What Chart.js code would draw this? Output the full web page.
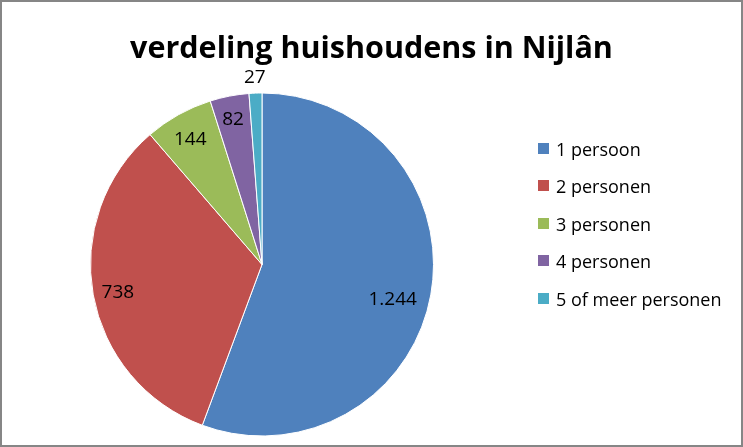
<!DOCTYPE html>
<html>
<head>
<meta charset="utf-8">
<script src="https://cdn.jsdelivr.net/npm/chart.js@4"></script>
<style>
  html, body { margin: 0; padding: 0; background: #fff; }
  body { position: relative; width: 743px; height: 447px; overflow: hidden; }
  #frame {
    position: absolute; left: 0; top: 0; width: 743px; height: 447px;
    box-sizing: border-box; border: 2px solid #868686; pointer-events: none;
  }
  #chart { position: absolute; left: 0; top: 0; }
  #title {
    position: absolute; left: 0; width: 743px; top: 25px; line-height: 30px;
    text-align: center; font: bold 30.5px "Open Sans", sans-serif; color: #000; white-space: nowrap;
  }
  .lg { position: absolute; left: 538px; font: 18px "Open Sans", sans-serif; line-height: 18px; color: #000; white-space: nowrap; }
  .lg .sw { position: absolute; left: 0; top: 3px; width: 11px; height: 11px; }
  .lg .tx { position: absolute; left: 18px; top: 0; }
</style>
</head>
<body>
<canvas id="chart" width="743" height="447"></canvas>
<div id="title">verdeling huishoudens in Nijlân</div>
<div id="legend"></div>
<div id="frame"></div>
<script>
// ── Data ───────────────────────────────────────────────
const categories = ['1 persoon', '2 personen', '3 personen', '4 personen', '5 of meer personen'];
const households = [1244, 738, 144, 82, 27];
const sliceColors = ['#4F81BD', '#C0504D', '#9BBB59', '#8064A2', '#4BACC6'];

// label placement (fraction of radius, angle shift in degrees) — Excel "best fit"
const labelRadius = [0.786, 0.855, 0.846, 0.871, 1.097];
const labelShift  = [4, -0.4, -0.5, -0.2, 0];

// Dutch thousands separator
function fmt(v) {
  return v.toLocaleString('nl-NL');
}

// ── Data labels ───────────────────────────────────────
const labelPlugin = {
  id: 'sliceLabels',
  afterDatasetsDraw(chart) {
    const ctx = chart.ctx;
    const arcs = chart.getDatasetMeta(0).data;
    ctx.save();
    ctx.font = '19px "Open Sans", sans-serif';
    ctx.fillStyle = '#000';
    ctx.textAlign = 'center';
    ctx.textBaseline = 'alphabetic';
    arcs.forEach((arc, i) => {
      const p = arc.getProps(['x', 'y', 'startAngle', 'endAngle', 'outerRadius'], true);
      const mid = (p.startAngle + p.endAngle) / 2 + labelShift[i] * Math.PI / 180;
      const r = p.outerRadius * labelRadius[i];
      // centre the digits' cap height on the point
      ctx.fillText(fmt(households[i]), p.x + Math.cos(mid) * r, p.y + Math.sin(mid) * r + 7);
    });
    ctx.restore();
  }
};

new Chart(document.getElementById('chart'), {
  type: 'pie',
  data: {
    labels: categories,
    datasets: [{
      data: households,
      backgroundColor: sliceColors,
      borderColor: '#ffffff',
      borderWidth: 1,
    }]
  },
  options: {
    responsive: false,
    animation: false,
    layout: { padding: { left: 90, right: 309, top: 92, bottom: 10 } },
    plugins: {
      legend: { display: false },
      tooltip: { enabled: false },
    },
  },
  plugins: [labelPlugin],
});

// ── HTML legend ───────────────────────────────────────
const legendEl = document.getElementById('legend');
categories.forEach((c, i) => {
  const row = document.createElement('div');
  row.className = 'lg';
  row.style.top = (139.5 + i * 37.6) + 'px';
  row.innerHTML = `<span class="sw" style="background:${sliceColors[i]}"></span><span class="tx">${c}</span>`;
  legendEl.appendChild(row);
});
</script>
</body>
</html>
